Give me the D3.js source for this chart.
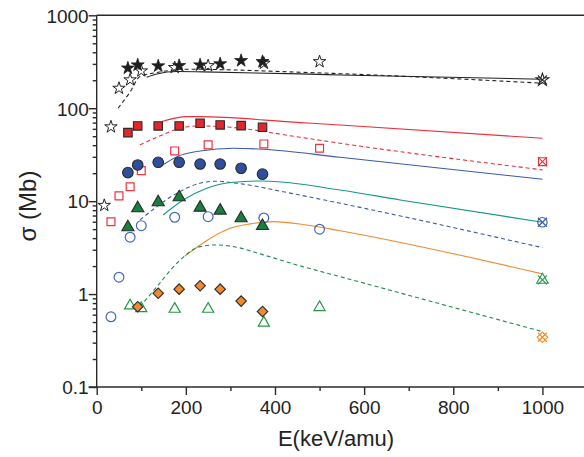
<!DOCTYPE html>
<html>
<head>
<meta charset="utf-8">
<title>sigma vs E</title>
<script src="https://d3js.org/d3.v7.min.js"></script>
<style>
  body { margin: 0; background: #fff; }
  text { font-family: "Liberation Sans", Arial, sans-serif; fill: #222; }
</style>
</head>
<body>
<svg id="chart" width="584" height="457"></svg>
<script>
// energies (keV/amu)
const eFilled = [70, 92, 138, 185, 232, 277, 324, 372];
const eHollow = [32, 50, 75, 100, 175, 250, 375, 500];
const eStarHollow = [17, 32, 50, 75, 100, 175, 250, 375, 500];
const eTriHollow = [75, 100, 175, 250, 375, 500];
const eDiamond = [92, 138, 185, 232, 277, 324, 372];

// measured cross sections (Mb)
const starFilled = [270, 292, 285, 287, 292, 300, 325, 317];
const starHollow = [9.0, 63, 164, 202, 252, 274, 287, 305, 317];
const squareFilled = [54.6, 64.5, 64.5, 64.5, 68.9, 66.1, 65, 62.4];
const squareHollow = [6.0, 11.4, 14.3, 21.3, 34.7, 40.3, 41.3, 37.1];
const circleFilled = [20.3, 24.5, 26.2, 26.2, 25.1, 25.1, 22.6, 19.5];
const circleHollow = [0.57, 1.52, 4.09, 5.45, 6.71, 6.81, 6.59, 4.99];
const triFilled = [5.24, 8.39, 9.74, 11.0, 8.51, 7.91, 6.55, 5.41];
const triHollow = [0.75, 0.70, 0.69, 0.69, 0.49, 0.72];
const diamond = [0.73, 1.02, 1.13, 1.23, 1.13, 0.84, 0.65];

// crossed points at 1000 keV/amu
const eHigh = 1000;
const highVals = [202, 26.6, 5.93, 1.42, 0.343];

// theory curves [E, sigma]
const blackSolid = [[112, 216], [135, 234], [180, 248], [239, 246], [456, 234], [546, 228], [1000, 205]];
const blackDash = [[48, 100], [75, 150], [97, 219], [135, 242], [202, 263], [456, 244], [1000, 186]];
const redSolid = [[146, 71.8], [202, 81.2], [232, 81.2], [456, 70], [546, 66.1], [1000, 47.5]];
const redDash = [[97, 40.3], [135, 48.7], [187, 60.9], [232, 64.5], [299, 62.4], [456, 48.7], [546, 42], [1000, 21.7]];
const blueSolid = [[146, 24.1], [180, 30.1], [232, 34.7], [307, 37.1], [374, 36.2], [546, 29.7], [1000, 17.2]];
const blueDash = [[97, 6.28], [135, 8.73], [180, 12.2], [232, 15.6], [269, 16.4], [314, 15.6], [434, 12.2], [546, 9.5], [1000, 3.16]];
const tealSolid = [[149, 7.1], [194, 10.3], [247, 13.8], [307, 16], [374, 16.5], [546, 13.2], [681, 10.3], [1000, 5.93]];
const orangeSolid = [[198, 2.57], [232, 3.38], [299, 5.11], [344, 5.69], [396, 6.02], [471, 5.54], [546, 4.81], [1000, 1.65]];
const greenDash = [[97, 0.73], [135, 1.2], [180, 2.15], [232, 3.24], [269, 3.38], [314, 3.19], [374, 2.64], [449, 2.06], [546, 1.54], [1000, 0.394]];

const xTicks = [0, 200, 400, 600, 800, 1000];
const yTicks = [0.1, 1, 10, 100, 1000];

const svg = d3.select("#chart");
const m = {left: 96.7, top: 15.3, bottom: 387, right: 587};

const x = d3.scaleLinear().domain([0, 1100]).range([m.left, m.right]);
const y = d3.scaleLog().domain([0.1, 1000]).range([m.bottom, m.top]);

const axisColor = "#2a2a2a";

// frame (top line + axes)
svg.append("line").attr("x1", m.left).attr("x2", 584).attr("y1", m.top).attr("y2", m.top)
  .attr("stroke", axisColor).attr("stroke-width", 1.6);

const xAxis = svg.append("g").attr("transform", "translate(0," + m.bottom + ")")
  .call(d3.axisBottom(x).tickValues(d3.range(0, 1101, 100)).tickSize(4).tickFormat(""));
xAxis.selectAll(".tick line").filter(d => d % 200 === 0).attr("y2", 8);
xAxis.select(".domain").attr("d", "M" + (m.left - 8) + ",0H584");
xAxis.selectAll("path, line").attr("stroke", axisColor).attr("stroke-width", 1.4);
xAxis.selectAll(".tick").filter(d => xTicks.includes(d)).append("text")
  .attr("y", 27).attr("text-anchor", "middle").attr("font-size", 19).text(d => d);

const isMajor = d => yTicks.some(t => Math.abs(t - d) / t < 1e-6);
const minor = [];
[0.1, 1, 10, 100].forEach(d => { for (let k = 1; k < 10; k++) minor.push(d * k); });
minor.push(1000);
const yAxis = svg.append("g").attr("transform", "translate(" + m.left + ",0)")
  .call(d3.axisLeft(y).tickValues(minor).tickSize(4).tickFormat(""));
yAxis.selectAll(".tick line").filter(isMajor).attr("x2", -8);
yAxis.select(".domain").attr("d", "M0," + m.bottom + "V" + m.top);
yAxis.selectAll("path, line").attr("stroke", axisColor).attr("stroke-width", 1.4);
yAxis.selectAll(".tick").filter(isMajor).append("text")
  .attr("x", -8).attr("dy", "0.36em").attr("text-anchor", "end").attr("font-size", 19)
  .text(d => d >= 1 ? d3.format("d")(d) : "0.1");

svg.append("text").attr("x", 336).attr("y", 446).attr("text-anchor", "middle")
  .attr("font-size", 22).text("E(keV/amu)");
svg.append("text").attr("transform", "translate(36,206) rotate(-90)")
  .attr("text-anchor", "middle").attr("font-size", 24).text("σ (Mb)");

// curves
const line = d3.line().x(d => x(d[0])).y(d => y(d[1])).curve(d3.curveMonotoneX);
function curve(data, color, dashed) {
  svg.append("path").datum(data).attr("d", line).attr("fill", "none")
    .attr("stroke", color).attr("stroke-width", 1.1)
    .attr("stroke-dasharray", dashed ? "4,3" : null);
}
curve(blackSolid, "#222", false);
curve(blackDash, "#222", true);
curve(redSolid, "#e8303a", false);
curve(redDash, "#e8303a", true);
curve(blueSolid, "#3a5aa8", false);
curve(blueDash, "#3a5aa8", true);
curve(tealSolid, "#17978a", false);
curve(orangeSolid, "#f2892e", false);
curve(greenDash, "#1f8a4c", true);

// markers
function markers(es, vals, type, size, fill, stroke, sw, rot) {
  svg.append("g").selectAll("path").data(es.map((e, i) => [e, vals[i]])).join("path")
    .attr("d", d3.symbol().type(type).size(size))
    .attr("transform", d => "translate(" + x(d[0]) + "," + y(d[1]) + ")" + (rot ? " rotate(" + rot + ")" : ""))
    .attr("fill", fill).attr("stroke", stroke).attr("stroke-width", sw);
}
const dark = "#2a2a2a";
markers(eHollow, circleHollow, d3.symbolCircle, 75, "none", "#4466bb", 1.2);
markers(eTriHollow, triHollow, d3.symbolTriangle, 54, "none", "#229944", 1.2);
markers(eHollow, squareHollow, d3.symbolSquare, 62, "none", "#ee3340", 1.2);
markers(eStarHollow, starHollow, d3.symbolStar, 48, "none", "#222", 1);
markers(eDiamond, diamond, d3.symbolSquare, 55, "#f28a2a", dark, 1.1, 45);
markers(eFilled, triFilled, d3.symbolTriangle, 64, "#17803e", dark, 1.1);
markers(eFilled, circleFilled, d3.symbolCircle, 88, "#2f4e9e", dark, 1.1);
markers(eFilled, squareFilled, d3.symbolSquare, 72, "#e2262c", dark, 1.1);
markers(eFilled, starFilled, d3.symbolStar, 52, "#1e1e1e", "#1e1e1e", 0.8);

// crossed markers at 1000
const highTypes = [d3.symbolStar, d3.symbolSquare, d3.symbolCircle, d3.symbolTriangle, d3.symbolSquare];
const highSizes = [50, 62, 70, 58, 55];
const highColors = ["#222", "#e8303a", "#3a5aa8", "#229944", "#f28a2a"];
highVals.forEach((v, i) => {
  const g = svg.append("g").attr("transform", "translate(" + x(eHigh) + "," + y(v) + ")");
  g.append("path").attr("d", d3.symbol().type(highTypes[i]).size(highSizes[i]))
    .attr("transform", i === 4 ? "rotate(45)" : null)
    .attr("fill", "none").attr("stroke", highColors[i]).attr("stroke-width", 1.1);
  g.append("path").attr("d", "M-4.5,-4.5L4.5,4.5M-4.5,4.5L4.5,-4.5")
    .attr("stroke", highColors[i]).attr("stroke-width", 1.1);
});
</script>
</body>
</html>
